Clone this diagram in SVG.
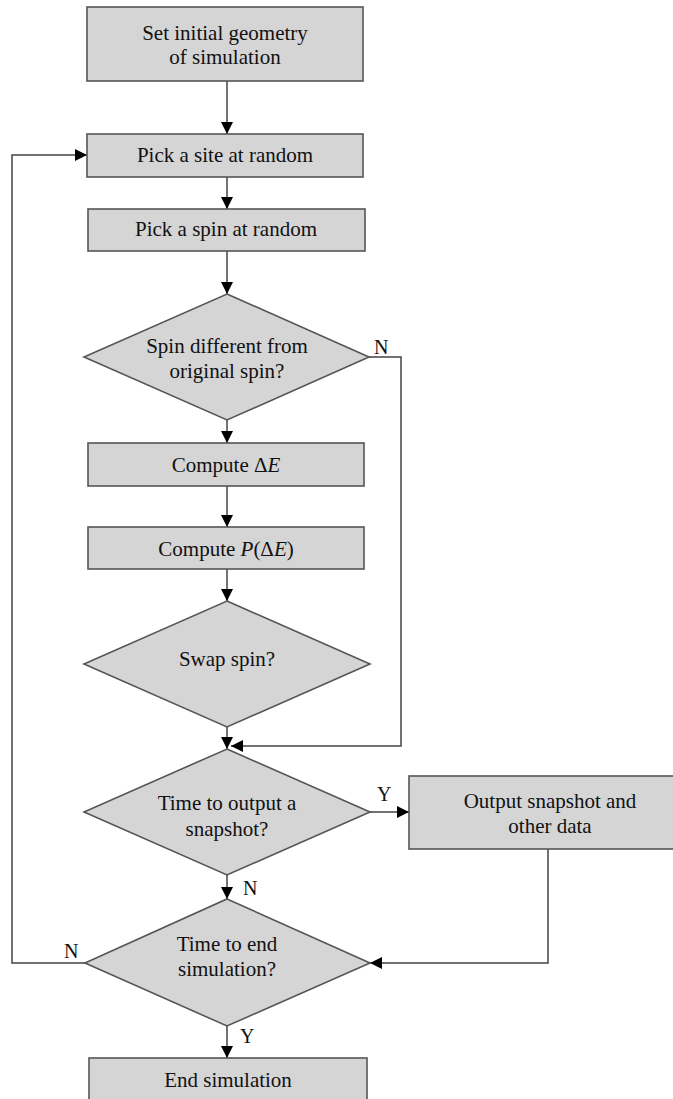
<svg xmlns="http://www.w3.org/2000/svg" width="673" height="1099" viewBox="0 0 673 1099">
<style>
.node{fill:#d5d5d5;stroke:#555;stroke-width:1.6}
.t{font-family:"Liberation Serif","Times New Roman",serif;font-size:21px;fill:#111;text-anchor:middle}
.lb{font-family:"Liberation Serif","Times New Roman",serif;font-size:20px;fill:#111}
.c{fill:none;stroke:#444;stroke-width:1.5}
</style>
<defs>
<marker id="ah" markerUnits="userSpaceOnUse" markerWidth="13" markerHeight="13" refX="12" refY="6" orient="auto">
<path d="M0,0 L12,6 L0,12 z" fill="#000"/>
</marker>
</defs>
<rect width="673" height="1099" fill="#fff"/>
<g id="connectors">
<path class="c" d="M227,81 V134" marker-end="url(#ah)"/>
<path class="c" d="M227,177 V209" marker-end="url(#ah)"/>
<path class="c" d="M227,251 V294" marker-end="url(#ah)"/>
<path class="c" d="M227,420 V443" marker-end="url(#ah)"/>
<path class="c" d="M227,486 V527" marker-end="url(#ah)"/>
<path class="c" d="M227,569 V601" marker-end="url(#ah)"/>
<path class="c" d="M227,727 V749" marker-end="url(#ah)"/>
<path class="c" d="M369,357 H401 V746 H231" marker-end="url(#ah)"/>
<path class="c" d="M370,812 H409" marker-end="url(#ah)"/>
<path class="c" d="M227,875 V899" marker-end="url(#ah)"/>
<path class="c" d="M548,849 V963 H370" marker-end="url(#ah)"/>
<path class="c" d="M85,963 H12 V155 H87" marker-end="url(#ah)"/>
<path class="c" d="M227,1026 V1058" marker-end="url(#ah)"/>
<text class="lb" x="374" y="354">N</text>
<text class="lb" x="377" y="801">Y</text>
<text class="lb" x="243" y="895">N</text>
<text class="lb" x="64" y="958">N</text>
<text class="lb" x="240" y="1043">Y</text>
</g>
<g id="n1">
<rect class="node" x="87" y="7" width="276" height="74"/>
<text class="t" x="225" y="40">Set initial geometry</text>
<text class="t" x="225" y="64">of simulation</text>
</g>
<g id="n2">
<rect class="node" x="87" y="134" width="276" height="43"/>
<text class="t" x="225" y="162">Pick a site at random</text>
</g>
<g id="n3">
<rect class="node" x="88" y="209" width="277" height="42"/>
<text class="t" x="226" y="236">Pick a spin at random</text>
</g>
<g id="n4">
<polygon class="node" points="227,294 369,357 227,420 84,357"/>
<text class="t" x="227" y="353">Spin different from</text>
<text class="t" x="227" y="378">original spin?</text>
</g>
<g id="n5">
<rect class="node" x="88" y="443" width="276" height="43"/>
<text class="t" x="226" y="472">Compute Δ<tspan font-style="italic">E</tspan></text>
</g>
<g id="n6">
<rect class="node" x="88" y="527" width="276" height="42"/>
<text class="t" x="226" y="556">Compute <tspan font-style="italic">P</tspan>(Δ<tspan font-style="italic">E</tspan>)</text>
</g>
<g id="n7">
<polygon class="node" points="227,601 370,664 227,727 84,664"/>
<text class="t" x="227" y="666">Swap spin?</text>
</g>
<g id="n8">
<polygon class="node" points="227,749 370,812 227,875 84,812"/>
<text class="t" x="227" y="810">Time to output a</text>
<text class="t" x="227" y="836">snapshot?</text>
</g>
<g id="n9">
<rect class="node" x="409" y="776" width="284" height="73"/>
<text class="t" x="550" y="808">Output snapshot and</text>
<text class="t" x="550" y="833">other data</text>
</g>
<g id="n10">
<polygon class="node" points="227,899 370,963 227,1026 85,963"/>
<text class="t" x="227" y="951">Time to end</text>
<text class="t" x="227" y="976">simulation?</text>
</g>
<g id="n11">
<rect class="node" x="89" y="1058" width="278" height="44"/>
<text class="t" x="228" y="1087">End simulation</text>
</g>
</svg>
